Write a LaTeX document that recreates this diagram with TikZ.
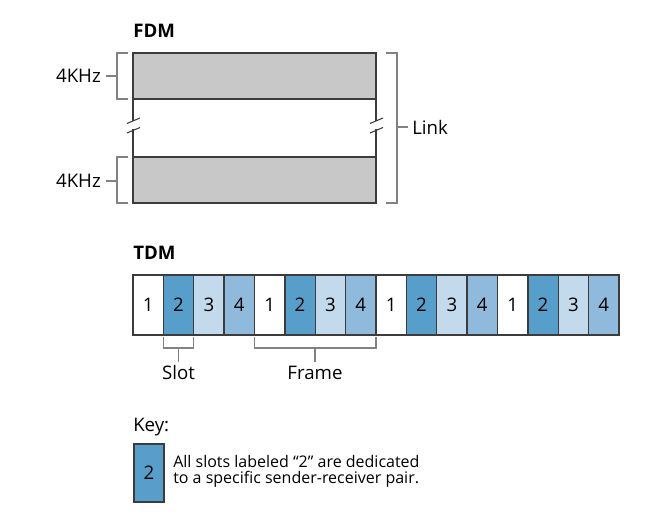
\documentclass[tikz,border=0pt]{standalone}
\usepackage{fontspec}
\setmainfont{Open Sans}
\usetikzlibrary{fit}
\definecolor{bandgrey}{RGB}{200,200,200}
\definecolor{edgegrey}{RGB}{60,60,60}
\definecolor{brgrey}{RGB}{130,130,130}
\definecolor{cA}{RGB}{255,255,255}
\definecolor{cB}{RGB}{88,158,203}
\definecolor{cC}{RGB}{195,218,236}
\definecolor{cD}{RGB}{143,186,219}
\begin{document}
\begin{tikzpicture}[x=0.75pt,y=-0.75pt,
  band/.style={draw=edgegrey,line width=1.1pt,fill=bandgrey,inner sep=0pt,outer sep=0pt},
  edge/.style={draw=edgegrey,line width=1.1pt},
  bracket/.style={draw=brgrey,line width=0.8pt},
  lbl/.style={font=\fontsize{14}{16}\selectfont,inner sep=0pt},
  ttl/.style={font=\fontsize{14}{16}\selectfont\bfseries,inner sep=0pt,anchor=west},
  slotbox/.style={draw=edgegrey,line width=1.1pt,inner sep=0pt,outer sep=0pt,
    minimum width=22.78pt,minimum height=45pt,font=\fontsize{14}{16}\selectfont},
  keytxt/.style={font=\fontsize{12}{12}\selectfont,inner sep=0pt,anchor=west,align=left}
]
\useasboundingbox (0,0) rectangle (647,516);

% ---------- FDM ----------
\node[ttl] (fdm) at (133,31) {FDM};
\node[band,fit={(133,53) (376,99)}] (bandtop) {};
\node[band,fit={(133,157) (376,203)}] (bandbot) {};
% side lines with break marks
\draw[edge] (bandtop.south west) -- (133,121);
\draw[edge] (133,129) -- (bandbot.north west);
\draw[edge] (bandtop.south east) -- (376,121);
\draw[edge] (376,129) -- (bandbot.north east);
\draw[edge,line width=0.8pt] (127,123.5) -- (140,118);
\draw[edge,line width=0.8pt] (127,133) -- (140,127.5);
\draw[edge,line width=0.8pt] (370,123.5) -- (383,118);
\draw[edge,line width=0.8pt] (370,133) -- (383,127.5);

% left brackets
\draw[bracket] (128,53) -- (117,53) -- (117,99) -- (128,99);
\coordinate (bt) at (117,76);
\node[lbl,anchor=east] (khz1) at (101,76) {4KHz};
\draw[bracket] (bt) -- ([xshift=3.5pt]khz1.east);
\draw[bracket] (128,157) -- (117,157) -- (117,203) -- (128,203);
\coordinate (bb) at (117,181);
\node[lbl,anchor=east] (khz2) at (101,181) {4KHz};
\draw[bracket] (bb) -- ([xshift=3.5pt]khz2.east);

% right bracket
\draw[bracket] (386,53) -- (397,53) -- (397,203) -- (386,203);
\coordinate (br) at (397,127);
\node[lbl,anchor=west] (link) at (412,127) {Link};
\draw[bracket] (br) -- ([xshift=-3pt]link.west);

% ---------- TDM ----------
\node[ttl] (tdm) at (133,253) {TDM};
\foreach \i [evaluate=\i as \xc using {133+30.375*(\i-0.5)},
             evaluate=\i as \k using {int(mod(\i-1,4)+1)}] in {1,...,16}{
  \ifcase\k\or
    \node[slotbox,fill=cA] (s\i) at (\xc,305) {1};
  \or
    \node[slotbox,fill=cB] (s\i) at (\xc,305) {2};
  \or
    \node[slotbox,fill=cC] (s\i) at (\xc,305) {3};
  \or
    \node[slotbox,fill=cD] (s\i) at (\xc,305) {4};
  \fi
}

% slot bracket
\draw[bracket] (s2.south west) ++(0,2) -- ++(0,11) -| ([yshift=-1.5pt]s2.south east);
\coordinate (slotmid) at (178.6,348);
\node[lbl] (slot) at (178.6,373) {Slot};
\draw[bracket] (slotmid) -- ([yshift=3pt]slot.north);

% frame bracket
\draw[bracket] (s5.south west) ++(0,2) -- ++(0,11) -| ([yshift=-1.5pt]s8.south east);
\coordinate (framemid) at (315,348);
\node[lbl] (frame) at (315,373) {Frame};
\draw[bracket] (framemid) -- ([yshift=3pt]frame.north);

% ---------- Key ----------
\node[keytxt,font=\fontsize{14}{16}\selectfont] (key) at (133,427) {Key:};
\node[slotbox,fill=cB,minimum height=43.5pt] (keybox) at (149,473) {2};
\node[keytxt] (keydesc) at (173,471) {All slots labeled ``2'' are dedicated\\to a specific sender-receiver pair.};
\end{tikzpicture}
\end{document}
